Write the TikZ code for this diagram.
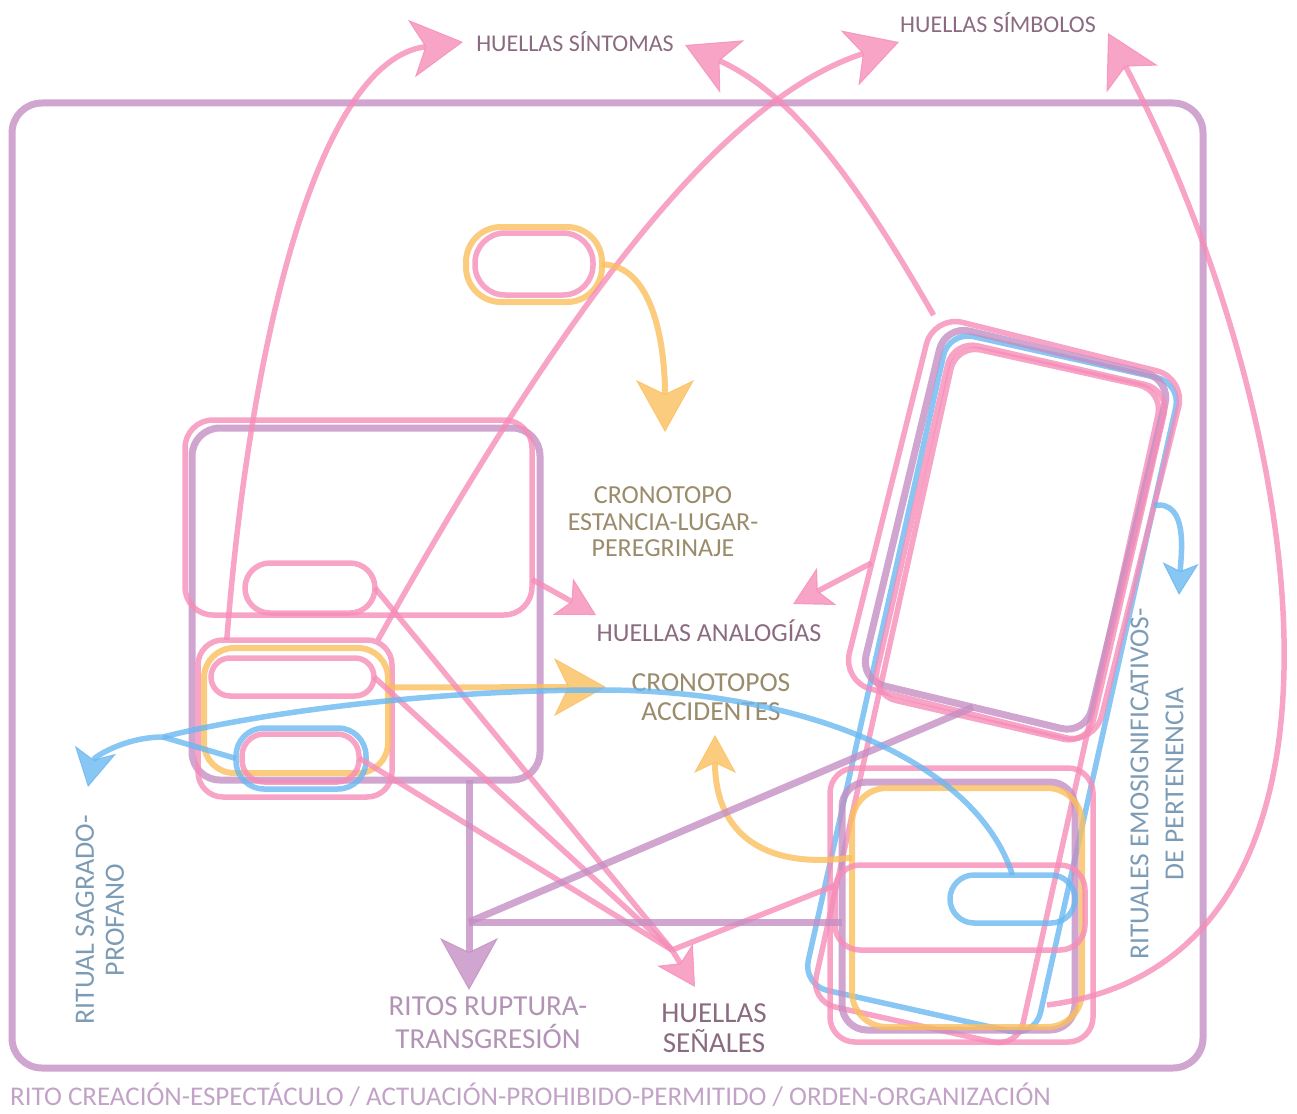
\documentclass[tikz,border=0pt]{standalone}
\usepackage{fontspec}
\setmainfont{Carlito}
\usetikzlibrary{arrows.meta, positioning, calc}
\definecolor{rosa}{HTML}{F58DB8}
\definecolor{lila}{HTML}{C48FC3}
\definecolor{ambar}{HTML}{FBBF5E}
\definecolor{celeste}{HTML}{6AB8F0}
\definecolor{malva}{HTML}{8B6B80}
\definecolor{oliva}{HTML}{9A8B6B}
\definecolor{lilatxt}{HTML}{B393B5}
\definecolor{azultxt}{HTML}{7C9CB6}
\definecolor{lilapie}{HTML}{C2A3C7}

\begin{document}
\begin{tikzpicture}[x=1pt, y=-1pt,
      caja/.style={inner sep=0pt, outer sep=0pt, rounded corners=25pt, opacity=.8},
      pk/.style={caja, draw=rosa, line width=5.5pt},
      pu/.style={caja, draw=lila, line width=7pt},
      og/.style={caja, draw=ambar, line width=6pt},
      bl/.style={caja, draw=celeste, line width=5.5pt},
      pkl/.style={draw=rosa, line width=5.5pt, opacity=.8},
      pul/.style={draw=lila, line width=7pt, opacity=.8},
      ogl/.style={draw=ambar, line width=6pt, opacity=.8},
      bll/.style={draw=celeste, line width=5.5pt, opacity=.8},
      big/.style={-{Stealth[length=52pt, width=58pt, inset=14pt, line width=1pt]}},
      med/.style={-{Stealth[length=38pt, width=42pt, inset=10pt, line width=1pt]}},
      sm/.style={-{Stealth[length=32pt, width=36pt, inset=8pt, line width=1pt]}},
      txt/.style={inner sep=0pt, align=center},
    ]
    \useasboundingbox (0,0) rectangle (1297,1113);
    % --- outer frame -----------------------------------------------------
    \node[pu, rounded corners=30pt, minimum width=1191pt, minimum height=965pt] (marco) at (607.5,585.5) {};
    % --- labels ----------------------------------------------------------
    \node[txt, text=malva, font=\fontsize{24pt}{26pt}\selectfont] (sintomas) at (575,42) {HUELLAS SÍNTOMAS};
    \node[txt, text=malva, font=\fontsize{24pt}{26pt}\selectfont] (simbolos) at (998,23) {HUELLAS SÍMBOLOS};
    \node[txt, text=oliva, font=\fontsize{26pt}{26.5pt}\selectfont] (cron) at (663,522)
      {CRONOTOPO\\ESTANCIA-LUGAR-\\PEREGRINAJE};
    \node[txt, text=malva, font=\fontsize{26pt}{28pt}\selectfont] (analog) at (709,631) {HUELLAS ANALOGÍAS};
    \node[txt, text=oliva, font=\fontsize{27.5pt}{29pt}\selectfont] (accid) at (711,697) {CRONOTOPOS\\ACCIDENTES};
    \node[txt, text=malva, font=\fontsize{29pt}{30pt}\selectfont] (senales) at (714,1028) {HUELLAS\\SEÑALES};
    \node[txt, text=lilatxt, font=\fontsize{29pt}{33pt}\selectfont] (ritos) at (488,1023) {RITOS RUPTURA-\\TRANSGRESIÓN};
    \node[txt, text=azultxt, rotate=90, font=\fontsize{28pt}{30pt}\selectfont] (sagrado) at (100,920)
      {RITUAL SAGRADO-\\PROFANO};
    \node[txt, text=azultxt, rotate=90, font=\fontsize{27.5pt}{35pt}\selectfont] (emosig) at (1157,784)
      {RITUALES EMOSIGNIFICATIVOS-\\DE PERTENENCIA};
    \node[txt, text=lilapie, anchor=west, font=\fontsize{27pt}{28pt}\selectfont] (pie) at (10,1095)
      {RITO CREACIÓN-ESPECTÁCULO / ACTUACIÓN-PROHIBIDO-PERMITIDO / ORDEN-ORGANIZACIÓN};
    % --- top pill --------------------------------------------------------
    \node[og, rounded corners=35pt, minimum width=136pt, minimum height=75pt] (tora) at (534,264.5) {};
    \node[pk, rounded corners=30pt, minimum width=118pt, minimum height=62pt] (tpk) at (534,264) {};
    % --- left group ------------------------------------------------------
    \node[pu, rounded corners=28pt, minimum width=348pt, minimum height=352pt] (lpur) at (366,604) {};
    \node[pk, rounded corners=28pt, minimum width=347pt, minimum height=195pt] (ltop) at (358.5,517.5) {};
    \node[pk, minimum width=130pt, minimum height=50pt] (lsmall) at (310,588) {};
    \node[pk, minimum width=194pt, minimum height=157pt] (llow) at (295,718.5) {};
    \node[og, rounded corners=30pt, minimum width=184pt, minimum height=125pt] (lora) at (296,710.5) {};
    \node[pk, rounded corners=19pt, minimum width=163pt, minimum height=38pt] (lpa) at (292.5,677) {};
    \node[bl, rounded corners=28pt, minimum width=130pt, minimum height=61pt] (lblu) at (301,758.5) {};
    \node[pk, rounded corners=22pt, minimum width=117pt, minimum height=48pt] (lpc) at (300.5,758) {};
    % --- tilted group on the right ---------------------------------------
    \node[bl, rotate=-12.6, minimum width=238pt, minimum height=670pt] (rbt) at (992,684) {};
    \node[pk, rotate=-12.5, minimum width=212pt, minimum height=673pt] (rpt) at (987,696) {};
    \node[pk, rotate=-14, rounded corners=30pt, minimum width=260pt, minimum height=378pt] (rpo) at (1014,530) {};
    \node[pu, rotate=-13.5, minimum width=232pt, minimum height=365pt] (rpu) at (1015.5,529.75) {};
    \node[pk, rotate=-13, minimum width=222pt, minimum height=364pt] (rp2) at (1020.5,542.5) {};
    % --- boxes bottom right ----------------------------------------------
    \node[pk, minimum width=263pt, minimum height=274pt] (bpk) at (961.5,905) {};
    \node[pu, minimum width=233pt, minimum height=248pt] (bpu) at (958.5,906) {};
    \node[og, rounded corners=35pt, minimum width=230pt, minimum height=239pt] (bor) at (967,907.5) {};
    \node[pk, minimum width=250pt, minimum height=85pt] (bband) at (960,907.5) {};
    \node[bl, rounded corners=24pt, minimum width=125pt, minimum height=48pt] (bblu) at (1012.5,899) {};
    % --- pink arrows up to the top labels --------------------------------
    \draw[pkl, big] (llow.131) .. controls +(24,-307) and +(-143,18) .. ([shift={(-112,0)}]sintomas.center);
    \draw[pkl, big] ([xshift=-14pt]llow.north east) .. controls +(185,-331) and +(-179,58) .. ([shift={(-99,19)}]simbolos.center);
    \draw[pkl, big] (rpo.north west) .. controls +(-82,-143) and +(105,48) .. ([shift={(110,3)}]sintomas.center);
    \draw[pkl, big] ([shift={(-46,-37)}]bpk.south east) .. controls +(353,-45) and +(192,365) .. ([shift={(110,10)}]simbolos.center);
    % --- orange arrows ---------------------------------------------------
    \draw[ogl, big] (tora.east) .. controls +(50,0) and +(0,-90) .. ([shift={(2,-90)}]cron.center);
    \draw[ogl, big] ([yshift=23pt]lora.east) -- ([shift={(-105,-10)}]accid.center);
    \draw[ogl, med] ([yshift=50pt]bor.west) .. controls +(-92,13) and +(0,95) .. ([shift={(4,38)}]accid.center);
    % --- pink arrows to HUELLAS ANALOGÍAS --------------------------------
    \draw[pkl, med] ([yshift=-62pt]ltop.east) -- ([shift={(-113,-16)}]analog.center);
    \draw[pkl, med] (rpo.207) -- ([shift={(84,-27)}]analog.center);
    % --- pink lines into HUELLAS SEÑALES ---------------------------------
    \coordinate (nudo) at ([shift={(-42,-78)}]senales.center);
    \foreach \o in {lsmall.east, lpa.east, lpc.east} {
      \draw[pkl] (\o) -- (nudo);
    }
    \draw[pkl] ([yshift=22pt]bband.west) -- (nudo);
    \draw[pkl, med] (nudo) -- ([shift={(-19,-41)}]senales.center);
    % --- purple stem and links -------------------------------------------
    \coordinate (cruce) at ([shift={(103,142)}]lpur.south);
    \draw[pul, big] ([xshift=103pt]lpur.south) -- (cruce) -- ([shift={(-19,-33)}]ritos.center);
    \draw[pul] (cruce) -- (cruce -| bpu.west);
    \draw[pul] (cruce) -- (rpu.south);
    % --- blue arrows -----------------------------------------------------
    \coordinate (junta) at ([shift={(63,-183)}]sagrado.center);
    \coordinate (cima) at ([shift={(-110,-7)}]accid.center);
    \draw[bll, med] (bblu.north) .. controls +(-37,-115) and +(200,0) .. (cima)
      .. controls +(-180,0) and +(87,-22) .. (junta)
      .. controls +(-38,0) and +(6,-30) .. ([shift={(-12,-133)}]sagrado.center);
    \draw[bll] (lblu.west) -- (junta);
    \draw[bll, sm] (rpo.24) .. controls +(35,-5) and +(2,-40) .. ([shift={(22,-189)}]emosig.center);
  \end{tikzpicture}
\end{document}
